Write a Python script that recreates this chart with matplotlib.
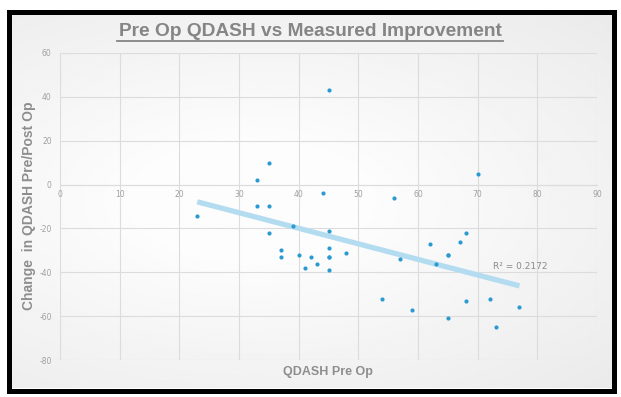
import matplotlib.pyplot as plt
import numpy as np
from matplotlib.patches import Rectangle

# QDASH pre-op score vs measured change
qdash_pre = [23, 33, 33, 35, 35, 35, 37, 37, 39, 40, 41, 42, 43, 44, 45, 45,
             45, 45, 45, 45, 48, 54, 56, 57, 59, 62, 63, 65, 65, 65, 67, 68,
             68, 70, 72, 73, 77]
qdash_change = [-14.5, 2, -10, 10, -10, -22, -30, -33, -19, -32, -38, -33, -36,
                -4, 43, -21, -29, -33, -39, -33, -31, -52, -6, -34, -57, -27,
                -36, -32, -61, -32, -26, -22, -53, 5, -52, -65, -56]
x_ticks = [0, 10, 20, 30, 40, 50, 60, 70, 80, 90]
y_ticks = [60, 40, 20, 0, -20, -40, -60, -80]
r2_label = "R² = 0.2172"

plt.rcParams["axes.unicode_minus"] = False

W, H = 621, 397
fig = plt.figure(figsize=(W / 100, H / 100), dpi=100)
fig.set_facecolor("white")

# soft grey vignette behind everything
bg = fig.add_axes([11 / W, 1 - 388 / H, 601 / W, 374 / H], zorder=0)
gx, gy = np.meshgrid(np.linspace(-1, 1, 300), np.linspace(-1, 1, 200))
shade = 0.99 - 0.06 * np.clip(np.hypot((gx + 0.2) * 0.9, gy * 1.1) - 0.35, 0, None)
bg.imshow(shade, cmap="gray", vmin=0, vmax=1, aspect="auto",
          extent=[0, 1, 0, 1], interpolation="bilinear")
bg.set_axis_off()

# thick black frame
fig.patches.append(Rectangle((8.5 / W, 1 - 390.5 / H), 605.5 / W, 378.5 / H,
                             transform=fig.transFigure, fill=False,
                             edgecolor="black", linewidth=3.6, zorder=5))

ax = fig.add_axes([60 / W, 1 - 360 / H, 537 / W, 307 / H], zorder=1)
ax.set_facecolor("none")
ax.set_xlim(0, 90)
ax.set_ylim(-80, 60)
ax.set_xticks(x_ticks)
ax.set_yticks(y_ticks)
ax.grid(True, color="#dcdcdc", linewidth=0.8)
ax.set_axisbelow(True)
for s in ["top", "right", "left"]:
    ax.spines[s].set_visible(False)
ax.spines["bottom"].set_position(("data", 0))
ax.spines["bottom"].set_color("#dcdcdc")
ax.spines["bottom"].set_linewidth(0.8)
ax.tick_params(axis="both", length=0, labelsize=5.5, labelcolor="#a0a0a0")
ax.tick_params(axis="x", pad=4)
ax.tick_params(axis="y", pad=6)

x = np.array(qdash_pre)
y = np.array(qdash_change)
slope, intercept = np.polyfit(x, y, 1)
xf = np.array([x.min(), x.max()])
ax.plot(xf, slope * xf + intercept, color="#b3dcf0", linewidth=3.8,
        solid_capstyle="butt", zorder=2)
ax.scatter(x, y, s=9, color="#2b9ad0", zorder=3, linewidths=0)
ax.text(72.5, -38.5, r2_label, fontsize=6.5, color="#8a8a8a", zorder=4)

fig.text(310 / W, 1 - 31 / H, "Pre Op QDASH vs Measured Improvement",
         ha="center", va="center", fontsize=13.8, fontweight="bold",
         color="#858585", family="Liberation Sans")
# underline for the title
fig.add_artist(plt.Line2D([117 / W, 503 / W], [1 - 41 / H, 1 - 41 / H],
                          color="#858585", linewidth=1.3))
fig.text(328 / W, 1 - 372 / H, "QDASH Pre Op", ha="center", va="center",
         fontsize=9, fontweight="bold", color="#8e8e8e", family="Liberation Sans")
fig.text(29 / W, 1 - 206 / H, "Change  in QDASH Pre/Post Op", ha="center",
         va="center", rotation=90, fontsize=10, fontweight="bold",
         color="#8e8e8e", family="Liberation Sans")

fig.savefig("out.png", dpi=100)
